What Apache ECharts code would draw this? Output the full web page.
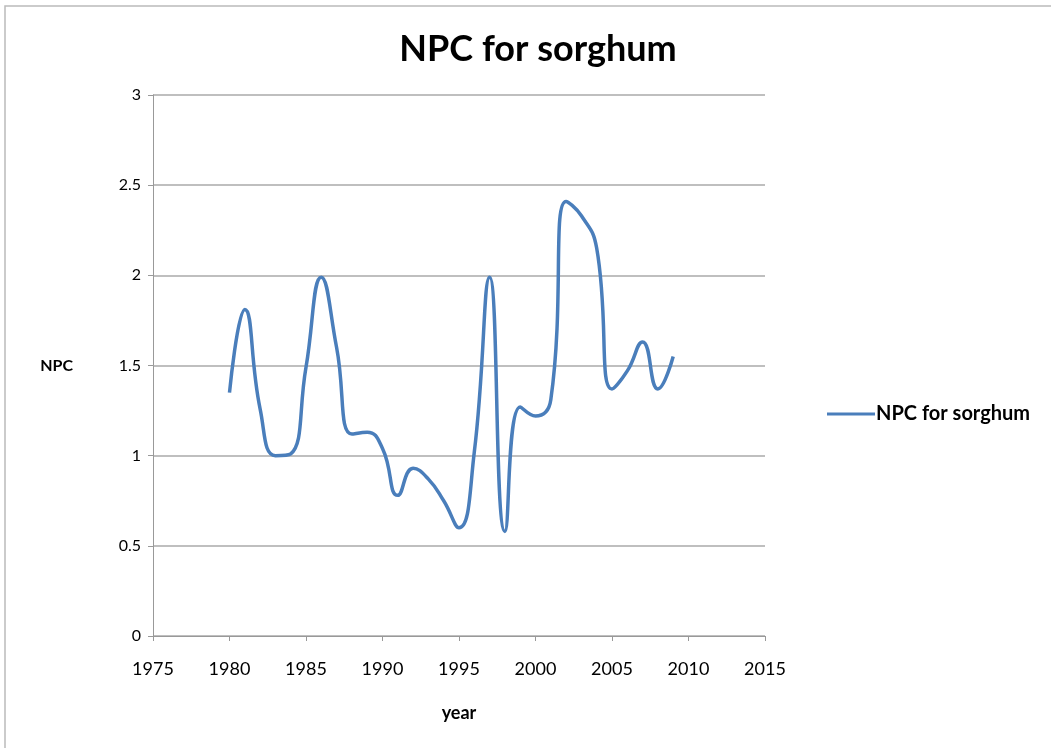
<!DOCTYPE html>
<html>
<head>
<meta charset="utf-8">
<script src="https://cdn.jsdelivr.net/npm/echarts@6/dist/echarts.min.js"></script>
<style>
  html, body { margin: 0; padding: 0; background: #fff; }
  #chart { width: 1051px; height: 748px; }
</style>
</head>
<body>
<div id="chart"></div>
<script>
// values
var years = [1980, 1981, 1982, 1983, 1984, 1985, 1986, 1987, 1988, 1989,
             1990, 1991, 1992, 1993, 1994, 1995, 1996, 1997, 1998, 1999,
             2000, 2001, 2002, 2003, 2004, 2005, 2006, 2007, 2008, 2009];
var npc = [1.35, 1.81, 1.26, 1.0, 1.01, 1.49, 1.99, 1.6, 1.12, 1.13,
           1.04, 0.78, 0.93, 0.87, 0.75, 0.6, 1.02, 1.99, 0.58, 1.27,
           1.22, 1.31, 2.41, 2.33, 2.15, 1.37, 1.47, 1.63, 1.37, 1.55];
var seriesName = 'NPC for sorghum';

var font = 'Lato, "Open Sans", sans-serif';

var myChart = echarts.init(document.getElementById('chart'));

var option = {
  animation: false,
  title: {
    text: 'NPC for sorghum',
    left: 533,
    textAlign: 'center',
    top: 26,
    textStyle: { fontFamily: font, fontSize: 36, fontWeight: 'bold', color: '#000' }
  },
  legend: {
    left: 822,
    top: 399,
    icon: 'rect',
    itemWidth: 48,
    itemHeight: 3,
    itemGap: 0,
    data: [seriesName],
    textStyle: { fontFamily: font, fontSize: 20, fontWeight: 'bold', color: '#000', padding: [0, 0, 0, -4] }
  },
  grid: { left: 153, right: 286, top: 95, bottom: 112, containLabel: false },
  xAxis: {
    type: 'value',
    min: 1975,
    max: 2015,
    interval: 5,
    name: 'year',
    nameLocation: 'middle',
    nameGap: 68,
    nameTextStyle: { fontFamily: font, fontSize: 18, fontWeight: 'bold', color: '#000' },
    axisLine: { show: true, lineStyle: { color: '#999' } },
    axisTick: { show: true, length: 5, lineStyle: { color: '#999' } },
    axisLabel: {
      fontFamily: font, fontSize: 18, color: '#000', margin: 24,
      formatter: function (v) { return String(v); }
    },
    splitLine: { show: false }
  },
  yAxis: {
    type: 'value',
    min: 0,
    max: 3,
    interval: 0.5,
    name: 'NPC',
    nameLocation: 'middle',
    nameRotate: 0,
    nameGap: 80,
    nameTextStyle: { fontFamily: font, fontSize: 16, fontWeight: 'bold', color: '#000' },
    axisLine: { show: true, lineStyle: { color: '#999' } },
    axisTick: { show: true, length: 5, lineStyle: { color: '#999' } },
    axisLabel: { fontFamily: font, fontSize: 16, color: '#000', margin: 12 },
    splitLine: { show: true, lineStyle: { color: '#aaa', width: 1.5 } }
  },
  graphic: [
    {
      type: 'rect',
      shape: { x: 5, y: 6, width: 1060, height: 760 },
      style: { fill: 'none', stroke: '#bbb', lineWidth: 1.5 }
    }
  ],
  series: [
    {
      name: seriesName,
      type: 'line',
      data: years.map(function (y, i) { return [y, npc[i]]; }),
      smooth: 0.5,
      symbol: 'none',
      lineStyle: { color: '#4a7ebb', width: 3.5 },
      itemStyle: { color: '#4a7ebb' }
    }
  ]
};

myChart.setOption(option);
</script>
</body>
</html>
